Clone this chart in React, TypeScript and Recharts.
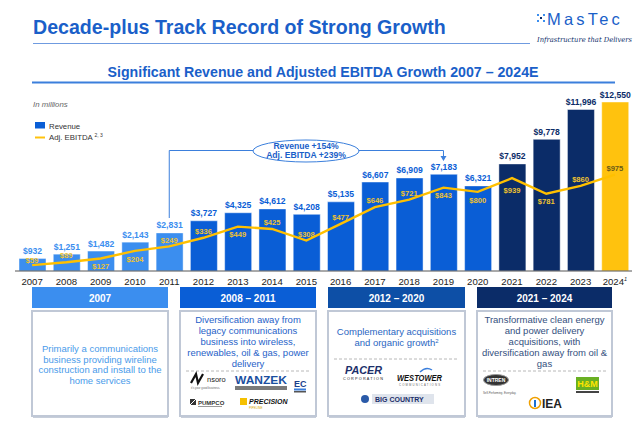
import React from "react";
import { Bar, Cell, ComposedChart, LabelList, Line, XAxis, YAxis } from "recharts";

// values in $ millions
const years = ["2007", "2008", "2009", "2010", "2011", "2012", "2013", "2014", "2015", "2016", "2017", "2018", "2019", "2020", "2021", "2022", "2023", "2024"];
const revenue = [932, 1251, 1482, 2143, 2831, 3727, 4325, 4612, 4208, 5135, 6607, 6909, 7183, 6321, 7952, 9778, 11996, 12550];
const adjEbitda = [59, 89, 127, 204, 249, 336, 449, 425, 308, 477, 646, 721, 843, 800, 939, 781, 860, 975];

const periodHeaders = ["2007", "2008 – 2011", "2012 – 2020", "2021 – 2024"];
const periodText = [
  ["Primarily a communications", "business providing wireline", "construction and install to the", "home services"],
  ["Diversification away from", "legacy communications", "business into wireless,", "renewables, oil & gas, power", "delivery"],
  ["Complementary acquisitions", "and organic growth"],
  ["Transformative clean energy", "and power delivery", "acquisitions, with", "diversification away from oil &", "gas"],
];

const LIGHT = "#3b8eef";
const MID = "#0a5ed6";
const NAVY = "#0b2c68";
const YELLOW = "#ffc20e";
const TITLE_BLUE = "#1a5fc9";
const FONT = '"Liberation Sans", Arial, sans-serif';

const barColor = (i: number) => (i === 17 ? YELLOW : i >= 14 ? NAVY : i >= 5 ? MID : LIGHT);
const revLabelColor = (i: number) => (i >= 14 ? NAVY : i >= 5 ? MID : LIGHT);
// which side of the line each EBITDA label sits on
const ebitdaAbove = [true, true, false, false, true, true, false, true, true, true, true, true, false, false, false, false, true, true];

const chartData = years.map((y, i) => ({ year: y, revenue: revenue[i], ebitda: adjEbitda[i] }));

const CHART_H = 290;
const PLOT_L = 15;
const PLOT_W = 617;
const AXIS_Y = 271;
const band = PLOT_W / years.length;
const catX = (i: number) => PLOT_L + band * (i + 0.5);

const fmt = (v: number) => "$" + v.toLocaleString("en-US");

const RevLabel = (props: any) => {
  const { x, y, width, value } = props;
  let i = props.index;
  if (i == null) i = revenue.indexOf(value);
  return (
    <text x={x + width / 2} y={y - 4.5} textAnchor="middle" fontSize={8.6} fontWeight="bold" fill={revLabelColor(i)} fontFamily={FONT}>
      {fmt(value)}
    </text>
  );
};

const EbitdaLabel = (props: any) => {
  const { x, y, value } = props;
  const i = adjEbitda.indexOf(value);
  const dy = ebitdaAbove[i] ? (i === 0 ? -5 : -6.5) : i === 14 ? 12 : 8;
  return (
    <text x={x} y={y + dy + 2.7} textAnchor="middle" fontSize={7.6} fontWeight="bold" fill={i === 17 ? "#6a5a18" : "#efc330"} fontFamily={FONT}>
      {fmt(value)}
    </text>
  );
};

const YearTick = (props: any) => {
  const { x, payload } = props;
  return (
    <text x={x} y={AXIS_Y + 13.6} textAnchor="middle" fontSize={9.6} fill="#222" fontFamily={FONT}>
      {payload.value}
      {payload.value === "2024" && (
        <tspan fontSize={5.5} fontStyle="italic" dy={-4}>1</tspan>
      )}
    </text>
  );
};

const cols = [
  { x: 32, w: 136, color: LIGHT, textColor: "#4a9bea" },
  { x: 180, w: 136, color: MID, textColor: "#1f62c8" },
  { x: 328, w: 137, color: "#0d4fa6", textColor: "#2a66c2" },
  { x: 477, w: 135, color: NAVY, textColor: "#34507e" },
];
const textTops = [351.7, 323.4, 335.2, 323.4];

const Overlay = () => {
  const x11 = catX(4);
  const x19 = catX(12);
  return (
    <svg width={640} height={421} style={{ position: "absolute", left: 0, top: 0, pointerEvents: "none" }} fontFamily={FONT}>
      {/* header */}
      <text x={33} y={33.5} fontSize={19.6} fontWeight="bold" fill={TITLE_BLUE}>Decade-plus Track Record of Strong Growth</text>
      <line x1={33} x2={530} y1={43.5} y2={43.5} stroke="#6f9be0" strokeWidth={1} />
      <g fill={TITLE_BLUE}>
        {[0, 1, 2].map((r) => [0, 1, 2].map((c) => ((r + c) % 2 === 0 ? (
          <rect key={r + "-" + c} x={537 + c * 3} y={14 + r * 3} width={2} height={2} fill={c === 1 && r === 1 ? NAVY : "#3b8eef"} />
        ) : null)))}
      </g>
      <text x={547} y={24.5} fontSize={16.5} fill={TITLE_BLUE} letterSpacing={3.2}>MasTec</text>
      <text x={537} y={42} fontSize={7} fontStyle="italic" fill={NAVY} textLength={95} lengthAdjust="spacingAndGlyphs" fontFamily='"DejaVu Serif", serif'>Infrastructure that Delivers</text>

      <text x={323} y={77} textAnchor="middle" fontSize={14.2} fontWeight="bold" fill={TITLE_BLUE}>Significant Revenue and Adjusted EBITDA Growth 2007 – 2024E</text>
      <line x1={32} x2={615} y1={82.5} y2={82.5} stroke="#3b7fdc" strokeWidth={2} />

      {/* units + legend */}
      <text x={33} y={107} fontSize={7.8} fontStyle="italic" fill="#666">In millions</text>
      <rect x={35} y={122} width={10} height={6.5} fill={MID} />
      <text x={49} y={128.6} fontSize={7.8} fill="#333">Revenue</text>
      <line x1={35} x2={45} y1={137.5} y2={137.5} stroke={YELLOW} strokeWidth={2} />
      <text x={49} y={140.2} fontSize={7.8} fill="#333">
        Adj. EBITDA <tspan fontSize={5} dy={-3.5}>2, 3</tspan>
      </text>

      {/* growth callout */}
      <polyline points={`${x11},218 ${x11},150.5 253,150.5`} fill="none" stroke="#3b7fdc" strokeWidth={1} />
      <polyline points={`359,150.5 ${x19},150.5 ${x19},157`} fill="none" stroke="#3b7fdc" strokeWidth={1} />
      <path d={`M${x19 - 3},156 L${x19 + 3},156 L${x19},161 Z`} fill="#3b7fdc" />
      <ellipse cx={306} cy={151} rx={53} ry={11} fill="#fff" stroke="#3b7fdc" strokeWidth={1} />
      <text x={306} y={148.8} textAnchor="middle" fontSize={8.6} fontWeight="bold" fill={TITLE_BLUE}>Revenue +154%</text>
      <text x={306} y={158.4} textAnchor="middle" fontSize={8.6} fontWeight="bold" fill={TITLE_BLUE}>Adj. EBITDA +239%</text>

      {/* period panels */}
      {cols.map((c, k) => (
        <g key={k}>
          <rect x={c.x} y={287} width={c.w} height={21} fill={c.color} />
          <text x={c.x + c.w / 2} y={301.5} textAnchor="middle" fontSize={10} fontWeight="bold" fill="#fff">{periodHeaders[k]}</text>
          <rect x={c.x + 1} y={312} width={c.w - 1} height={106} fill="#c7ceda" />
          <rect x={c.x} y={311} width={c.w} height={105} fill="#fff" stroke="#c0c8d6" strokeWidth={2} />
          <text textAnchor="middle" fontSize={9.5} fill={c.textColor}>
            {periodText[k].map((t, j) => (
              <tspan key={j} x={c.x + c.w / 2} y={textTops[k] + j * 10.8}>
                {t}
                {k === 2 && j === 1 && <tspan fontSize={6} dy={-3.5}>2</tspan>}
              </tspan>
            ))}
          </text>
        </g>
      ))}
      <line x1={186} x2={310} y1={371} y2={371} stroke="#b8b8b8" strokeDasharray="3 2" />
      <line x1={334} x2={459} y1={359} y2={359} stroke="#b8b8b8" strokeDasharray="3 2" />
      <line x1={483} x2={606} y1={371} y2={371} stroke="#b8b8b8" strokeDasharray="3 2" />

      {/* 2008-2011 acquisitions */}
      <polyline points="191,383 196,374 198,383 203,374" fill="none" stroke="#111" strokeWidth={2.2} />
      <text x={207} y={382} fontSize={7.5} fill="#222">nsoro</text>
      <text x={191} y={389} fontSize={2.8} fill="#666">it's your good business.</text>
      <text x={235} y={384} fontSize={11} fontWeight="bold" fill="#1b4f9f" textLength={52} lengthAdjust="spacingAndGlyphs">WANZEK</text>
      <rect x={235} y={386} width={52} height={4} fill="#7a7a7a" />
      <rect x={293} y={377} width={14} height={17} fill="#fff" />
      <text x={294} y={387} fontSize={9} fontWeight="bold" fill="#1b3f8c">EC</text>
      <rect x={294} y={388.5} width={12} height={2} fill="#3b7fdc" />
      <rect x={294} y={391} width={12} height={1.5} fill="#555" />
      <rect x={190} y={399} width={6} height={6} fill="#333" />
      <line x1={190} y1={405} x2={196} y2={399} stroke="#fff" strokeWidth={1} />
      <text x={198} y={404.5} fontSize={6} fontWeight="bold" fill="#333">PUMPCO</text>
      <rect x={198} y={406} width={24} height={1} fill="#999" />
      <rect x={240} y={398} width={7} height={7} fill="#f5c000" />
      <text x={249} y={404} fontSize={7} fontWeight="bold" fontStyle="italic" fill="#111">PRECISION</text>
      <text x={249} y={409} fontSize={3} fill="#d8a800">PIPELINE</text>

      {/* 2012-2020 acquisitions */}
      <text x={345} y={374} fontSize={11} fontWeight="bold" fontStyle="italic" fill="#1c2f6a" textLength={37} lengthAdjust="spacingAndGlyphs">PACER</text>
      <text x={343} y={380} fontSize={3.8} fill="#222" textLength={40} lengthAdjust="spacing">CORPORATION</text>
      <path d="M420,372 Q426,366 432,370" fill="none" stroke="#3b7fdc" strokeWidth={1.5} />
      <text x={397} y={381} fontSize={8.5} fontWeight="bold" fontStyle="italic" fill="#111" textLength={45} lengthAdjust="spacingAndGlyphs">WESTOWER</text>
      <text x={399} y={385.5} fontSize={2.8} fill="#666" textLength={41} lengthAdjust="spacing">COMMUNICATIONS</text>
      <circle cx={365} cy={399} r={4} fill="#2a5aa8" />
      <rect x={372} y={394} width={62} height={10} fill="#dfe4ec" />
      <text x={375} y={401.5} fontSize={7} fontWeight="bold" fill="#1c2f6a">BIG COUNTRY</text>

      {/* 2021-2024 acquisitions */}
      <ellipse cx={496} cy={380} rx={12.5} ry={5.5} fill="#333" stroke="#999" />
      <text x={496} y={382} textAnchor="middle" fontSize={5} fontWeight="bold" fill="#fff">INTREN</text>
      <text x={483} y={393.5} fontSize={2.8} fill="#555">Self-Performing. Everyday.</text>
      <rect x={576} y={377} width={23} height={13} fill="#6ab023" />
      <text x={587.5} y={387} textAnchor="middle" fontSize={9} fontWeight="bold" fill="#ffe400">H&amp;M</text>
      <rect x={576} y={391} width={23} height={2} fill="#444" />
      <circle cx={535} cy={403} r={5.5} fill="none" stroke="#f0a000" strokeWidth={1.5} />
      <rect x={534} y={400} width={2} height={7} fill="#1b6fd0" />
      <text x={542} y={408} fontSize={12} fontWeight="bold" fill="#222">IEA</text>
    </svg>
  );
};

export default function App() {
  return (
    <div style={{ position: "absolute", left: 0, top: 0, width: 640, height: 421, background: "#fff", overflow: "hidden", fontFamily: FONT }}>
      <div style={{ position: "absolute", left: 0, top: 0 }}>
        <ComposedChart width={640} height={CHART_H} data={chartData} margin={{ top: 102, right: 640 - PLOT_L - PLOT_W, bottom: 0, left: PLOT_L }}>
          <XAxis dataKey="year" height={CHART_H - AXIS_Y} tickLine={false} axisLine={{ stroke: "#555", strokeWidth: 1 }} tick={<YearTick />} interval={0} />
          <YAxis yAxisId="rev" hide domain={[0, 12550]} allowDataOverflow />
          <YAxis yAxisId="ebitda" hide orientation="right" domain={[0, 1709]} allowDataOverflow />
          <Bar yAxisId="rev" dataKey="revenue" barSize={27} isAnimationActive={false}>
            {chartData.map((_, i) => (
              <Cell key={i} fill={barColor(i)} stroke="rgba(255,255,255,0.45)" strokeWidth={1} />
            ))}
            <LabelList dataKey="revenue" content={<RevLabel />} />
          </Bar>
          <Line yAxisId="ebitda" dataKey="ebitda" type="linear" stroke="#ffc000" strokeWidth={2.4} dot={false} isAnimationActive={false}>
            <LabelList dataKey="ebitda" content={<EbitdaLabel />} />
          </Line>
        </ComposedChart>
      </div>
      <Overlay />
    </div>
  );
}
